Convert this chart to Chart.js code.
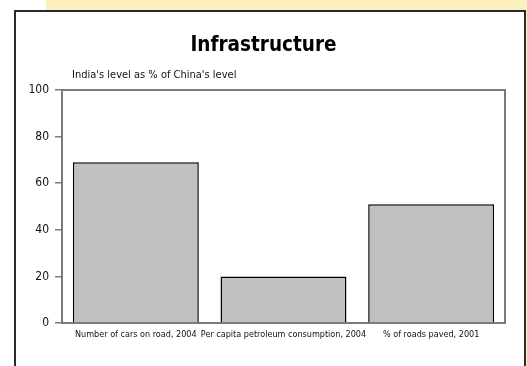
<!DOCTYPE html>
<html>
<head>
<meta charset="utf-8">
<script src="https://cdn.jsdelivr.net/npm/chart.js@4"></script>
<style>
  body { margin: 0; background: #fff; }
  #wrap { position: relative; width: 527px; height: 366px; overflow: hidden; }
  .strip { position: absolute; background: #fdf0bf; }
  #panel { position: absolute; left: 14px; top: 10px; width: 508px; height: 400px;
           border: 2px solid #2a2a2a; border-bottom: none; background: #fff; }
  canvas { position: absolute; left: 0; top: 0; }
</style>
</head>
<body>
<div id="wrap">
  <div class="strip" style="left:46px;top:0;width:481px;height:10px"></div>
  <div class="strip" style="left:525px;top:0;width:2px;height:366px"></div>
  <div id="panel"></div>
  <canvas id="chart" width="527" height="366"></canvas>
</div>
<script>
const categories = ['Number of cars on road, 2004', 'Per capita petroleum consumption, 2004', '% of roads paved, 2001'];
const levels = [69, 20, 51];
const yTicks = [0, 20, 40, 60, 80, 100];

const narrow = "'Liberation Sans Narrow', 'DejaVu Sans Condensed', Arial, sans-serif";
const frameColor = '#7a7a7a';

// gray box round the plot area plus the unit note above it
const framePlugin = {
  id: 'frame',
  afterDraw(chart) {
    const { ctx, chartArea: a } = chart;
    ctx.save();
    ctx.strokeStyle = frameColor;
    ctx.lineWidth = 2;
    ctx.beginPath();
    ctx.moveTo(a.left, a.top);
    ctx.lineTo(a.right, a.top);
    ctx.lineTo(a.right, a.bottom);
    ctx.stroke();
    ctx.fillStyle = '#111';
    ctx.font = '11px ' + narrow;
    ctx.textBaseline = 'alphabetic';
    ctx.fillText("India's level as % of China's level", 72, 78);
    ctx.restore();
  }
};

new Chart(document.getElementById('chart'), {
  type: 'bar',
  data: {
    labels: categories,
    datasets: [{
      data: levels,
      backgroundColor: '#c0c0c0',
      borderColor: '#000',
      borderWidth: { top: 1.5, left: 1.5, right: 1.5, bottom: 0 },
      borderSkipped: false,
      categoryPercentage: 1,
      barPercentage: 0.853
    }]
  },
  options: {
    responsive: false,
    animation: false,
    layout: { padding: { left: 0, right: 0, top: 0, bottom: 0 } },
    plugins: {
      legend: { display: false },
      tooltip: { enabled: false },
      title: {
        display: true,
        text: 'Infrastructure',
        color: '#000',
        font: { family: narrow, size: 20.5, weight: 'bold' },
        padding: { top: 33, bottom: 32.4 }
      }
    },
    scales: {
      x: {
        grid: { display: false, drawTicks: false },
        border: { display: true, color: frameColor, width: 2 },
        ticks: { color: '#111', font: { family: narrow, size: 9 }, padding: 6, maxRotation: 0, autoSkip: false },
        afterFit(scale) { scale.height = 366 - 323; }
      },
      y: {
        min: 0,
        max: 100,
        afterBuildTicks(scale) { scale.ticks = yTicks.map(v => ({ value: v })); },
        grid: { drawOnChartArea: false, drawTicks: true, tickLength: 7, color: frameColor, lineWidth: 1.5 },
        border: { display: true, color: frameColor, width: 2 },
        ticks: { color: '#111', font: { family: narrow, size: 12 }, padding: 6 },
        afterFit(scale) { scale.width = 62; }
      },
      y2: {
        position: 'right',
        display: true,
        grid: { display: false, drawTicks: false },
        border: { display: false },
        ticks: { display: false },
        afterFit(scale) { scale.width = 22; }
      }
    }
  },
  plugins: [framePlugin]
});
</script>
</body>
</html>
